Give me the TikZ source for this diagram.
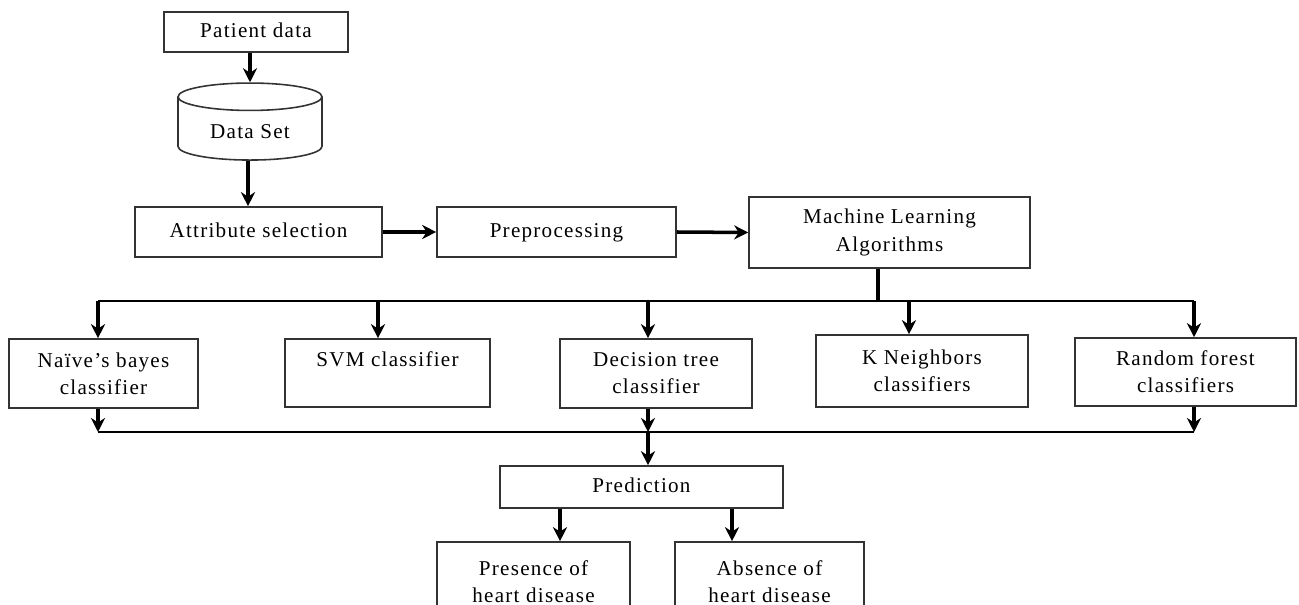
\documentclass[tikz,border=0pt]{standalone}
\usepackage{fontspec}
\setmainfont{Liberation Serif}[LetterSpace=6]
\usepackage{tikz}
\usetikzlibrary{arrows,arrows.meta,shapes,positioning,shadows}
\tikzstyle{arrow} = [line width=2pt,-{Stealth[length=8pt,width=8pt]}]
\tikzstyle{bus} = [line width=1.4pt]
\tikzstyle{stepbox} = [rectangle, draw=black!80, line width=0.9pt, fill=white, text centered, align=center, inner sep=2pt, font=\fontsize{12}{15.5}\selectfont, drop shadow={shadow xshift=0.8pt, shadow yshift=-0.8pt, fill=gray, opacity=0.8}]
\tikzstyle{oneline} = [text height=8.5pt, text depth=2.5pt]
\tikzstyle{store} = [cylinder, shape border rotate=90, aspect=0.3, draw=black!80, line width=0.9pt, fill=white, text centered, font=\fontsize{12}{15.5}\selectfont, minimum width=2.88cm, minimum height=1.54cm]

\begin{document}
\begin{tikzpicture}
\useasboundingbox (0,0) rectangle (25.98,-12.1);
% input side
\node (patient) [stepbox, oneline, minimum width=3.68cm, minimum height=0.8cm] at (5.12,-0.64) {Patient data};
\node (dataset) [store] at (5.0,-2.63) {Data Set};
\node (attr) [stepbox, oneline, minimum width=4.94cm, minimum height=1cm] at (5.17,-4.64) {Attribute selection};
\node (prep) [stepbox, oneline, minimum width=4.78cm, minimum height=1cm] at (11.13,-4.64) {Preprocessing};
\node (mla) [stepbox, minimum width=5.62cm, minimum height=1.42cm] at (17.79,-4.65) {Machine Learning\\Algorithms};

\draw[arrow] (patient.south -| dataset.north) -- (dataset.north);
\draw[arrow] (dataset.south -| 4.96,0) -- (attr.north -| 4.96,0);
\draw[arrow] (attr.east) -- (prep.west);
\draw[arrow] (prep.east) -- (mla.west);

% classifiers
\node (naive) [stepbox, minimum width=3.78cm, minimum height=1.38cm] at (2.07,-7.47) {Naïve's bayes\\classifier};
\node (svm) [stepbox, minimum width=4.1cm, minimum height=1.36cm] at (7.75,-7.46) {SVM classifier\\~};
\node (dtree) [stepbox, minimum width=3.84cm, minimum height=1.38cm] at (13.12,-7.47) {Decision tree\\classifier};
\node (knn) [stepbox, minimum width=4.24cm, minimum height=1.44cm] at (18.44,-7.42) {K Neighbors\\classifiers};
\node (rf) [stepbox, minimum width=4.42cm, minimum height=1.36cm] at (23.71,-7.44) {Random forest\\classifiers};

% split bus
\coordinate (s1) at (1.96,-6.02);
\coordinate (s2) at (7.56,-6.02);
\coordinate (s3) at (12.96,-6.02);
\coordinate (s4) at (18.18,-6.02);
\coordinate (s5) at (23.88,-6.02);
\coordinate (smla) at (17.56,-6.02);
\draw[line width=2pt] (mla.south -| smla) -- (smla);
\draw[bus] (s1) -- (s5);
\draw[arrow] (s1) -- (s1 |- naive.north);
\draw[arrow] (s2) -- (s2 |- svm.north);
\draw[arrow] (s3) -- (s3 |- dtree.north);
\draw[arrow] (s4) -- (s4 |- knn.north);
\draw[arrow] (s5) -- (s5 |- rf.north);

% join bus
\coordinate (j1) at (1.96,-8.64);
\coordinate (j3) at (12.96,-8.64);
\coordinate (j5) at (23.88,-8.64);
\draw[arrow] (j1 |- naive.south) -- (j1);
\draw[arrow] (j3 |- dtree.south) -- (j3);
\draw[arrow] (j5 |- rf.south) -- (j5);
\draw[bus] (j1) -- (j5);

% output
\node (pred) [stepbox, oneline, minimum width=5.66cm, minimum height=0.84cm] at (12.83,-9.74) {Prediction};
\node (presence) [stepbox, minimum width=3.86cm, minimum height=1.6cm] at (10.67,-11.64) {Presence of\\heart disease};
\node (absence) [stepbox, minimum width=3.78cm, minimum height=1.6cm] at (15.39,-11.64) {Absence of\\heart disease};

\draw[arrow] (j3) -- (j3 |- pred.north);
\draw[arrow] (pred.south -| 11.2,0) -- (presence.north -| 11.2,0);
\draw[arrow] (pred.south -| 14.64,0) -- (absence.north -| 14.64,0);
\end{tikzpicture}
\end{document}
